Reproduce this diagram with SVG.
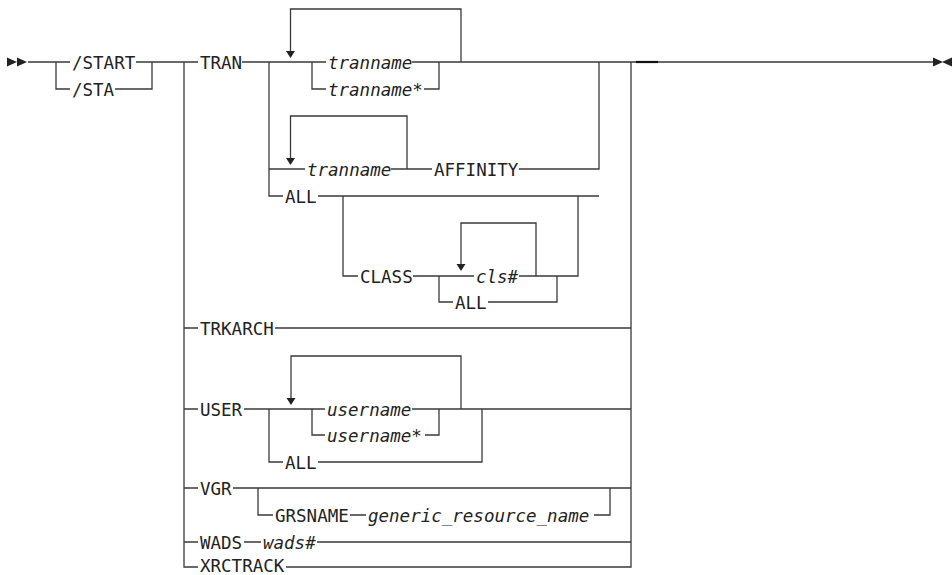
<svg xmlns="http://www.w3.org/2000/svg" width="952" height="575" viewBox="0 0 952 575">
<style>
.k{font-family:"DejaVu Sans Mono","Liberation Mono",monospace;font-size:17.5px;fill:#222}
.v{font-family:"DejaVu Sans Mono","Liberation Mono",monospace;font-size:17.5px;font-style:italic;fill:#222}
.c path{fill:none;stroke:#3a3a3a;stroke-width:1.3}
.a{fill:#222}
</style>
<rect width="952" height="575" fill="#fff"/>
<g id="connectors" class="c">
<path d="M28 62H70M136 62H198M242 62H326M412 62H935"/>
<path d="M56 62V89H70M115 89H152V62"/>
<path d="M184 62V567H198M184 328H198M184 409H198M184 488H198M184 542H198"/>
<path d="M286 567H631V62"/>
<path d="M275 328H631"/>
<path d="M461 62V9H290.5V51"/>
<path d="M312 62V89H326M424 89H439V62"/>
<path d="M269 62V196H283M269 169H305M391 169H432M519 169H599V62M318 196H599"/>
<path d="M407 169V116H290.5V158"/>
<path d="M343 196V276H358M413 276H474M519 276H578V196"/>
<path d="M536 276V223H461V265"/>
<path d="M439 276V302H453M488 302H557V276"/>
<path d="M244 409H325M412 409H631M461 409V356H291V398"/>
<path d="M312 409V435H325M425 435H439V409"/>
<path d="M269 409V462H283M318 462H482V409"/>
<path d="M233 488H631M258 488V515H273M350 515H366M594 515H610V488"/>
<path d="M244 542H261M317 542H631"/>
<path d="M636 62H658" style="stroke:#111;stroke-width:2.2"/>
<polygon class="a" points="7,57.5 17,62 7,66.5"/>
<polygon class="a" points="17,57.5 27,62 17,66.5"/>
<polygon class="a" points="933,57.5 943,62 933,66.5"/>
<polygon class="a" points="952,57.5 942,62 952,66.5"/>
<polygon class="a" points="286,51 295,51 290.5,58"/>
<polygon class="a" points="286,158 295,158 290.5,165"/>
<polygon class="a" points="456.5,264 465.5,264 461,271"/>
<polygon class="a" points="286.5,398 295.5,398 291,405"/>
</g>
<g id="start"><text class="k" x="72" y="68.5">/START</text></g>
<g id="sta"><text class="k" x="72" y="95.5">/STA</text></g>
<g id="tran"><text class="k" x="200" y="68.5">TRAN</text></g>
<g id="tranname1"><text class="v" x="328" y="68.5">tranname</text></g>
<g id="tranname2"><text class="v" x="328" y="95.5">tranname*</text></g>
<g id="tranname3"><text class="v" x="307" y="175.5">tranname</text></g>
<g id="affinity"><text class="k" x="434" y="175.5">AFFINITY</text></g>
<g id="all1"><text class="k" x="285" y="202.5">ALL</text></g>
<g id="class"><text class="k" x="360" y="282.5">CLASS</text></g>
<g id="cls"><text class="v" x="476" y="282.5">cls#</text></g>
<g id="all2"><text class="k" x="455" y="308.5">ALL</text></g>
<g id="trkarch"><text class="k" x="200" y="334.5">TRKARCH</text></g>
<g id="user"><text class="k" x="200" y="415.5">USER</text></g>
<g id="username1"><text class="v" x="327" y="415.5">username</text></g>
<g id="username2"><text class="v" x="327" y="441.5">username*</text></g>
<g id="all3"><text class="k" x="285" y="468.5">ALL</text></g>
<g id="vgr"><text class="k" x="200" y="494.5">VGR</text></g>
<g id="grsname"><text class="k" x="275" y="521.5">GRSNAME</text></g>
<g id="generic"><text class="v" x="368" y="521.5">generic_resource_name</text></g>
<g id="wads"><text class="k" x="200" y="548.5">WADS</text></g>
<g id="wadsnum"><text class="v" x="263" y="548.5">wads#</text></g>
<g id="xrctrack"><text class="k" x="200" y="572">XRCTRACK</text></g>
</svg>
